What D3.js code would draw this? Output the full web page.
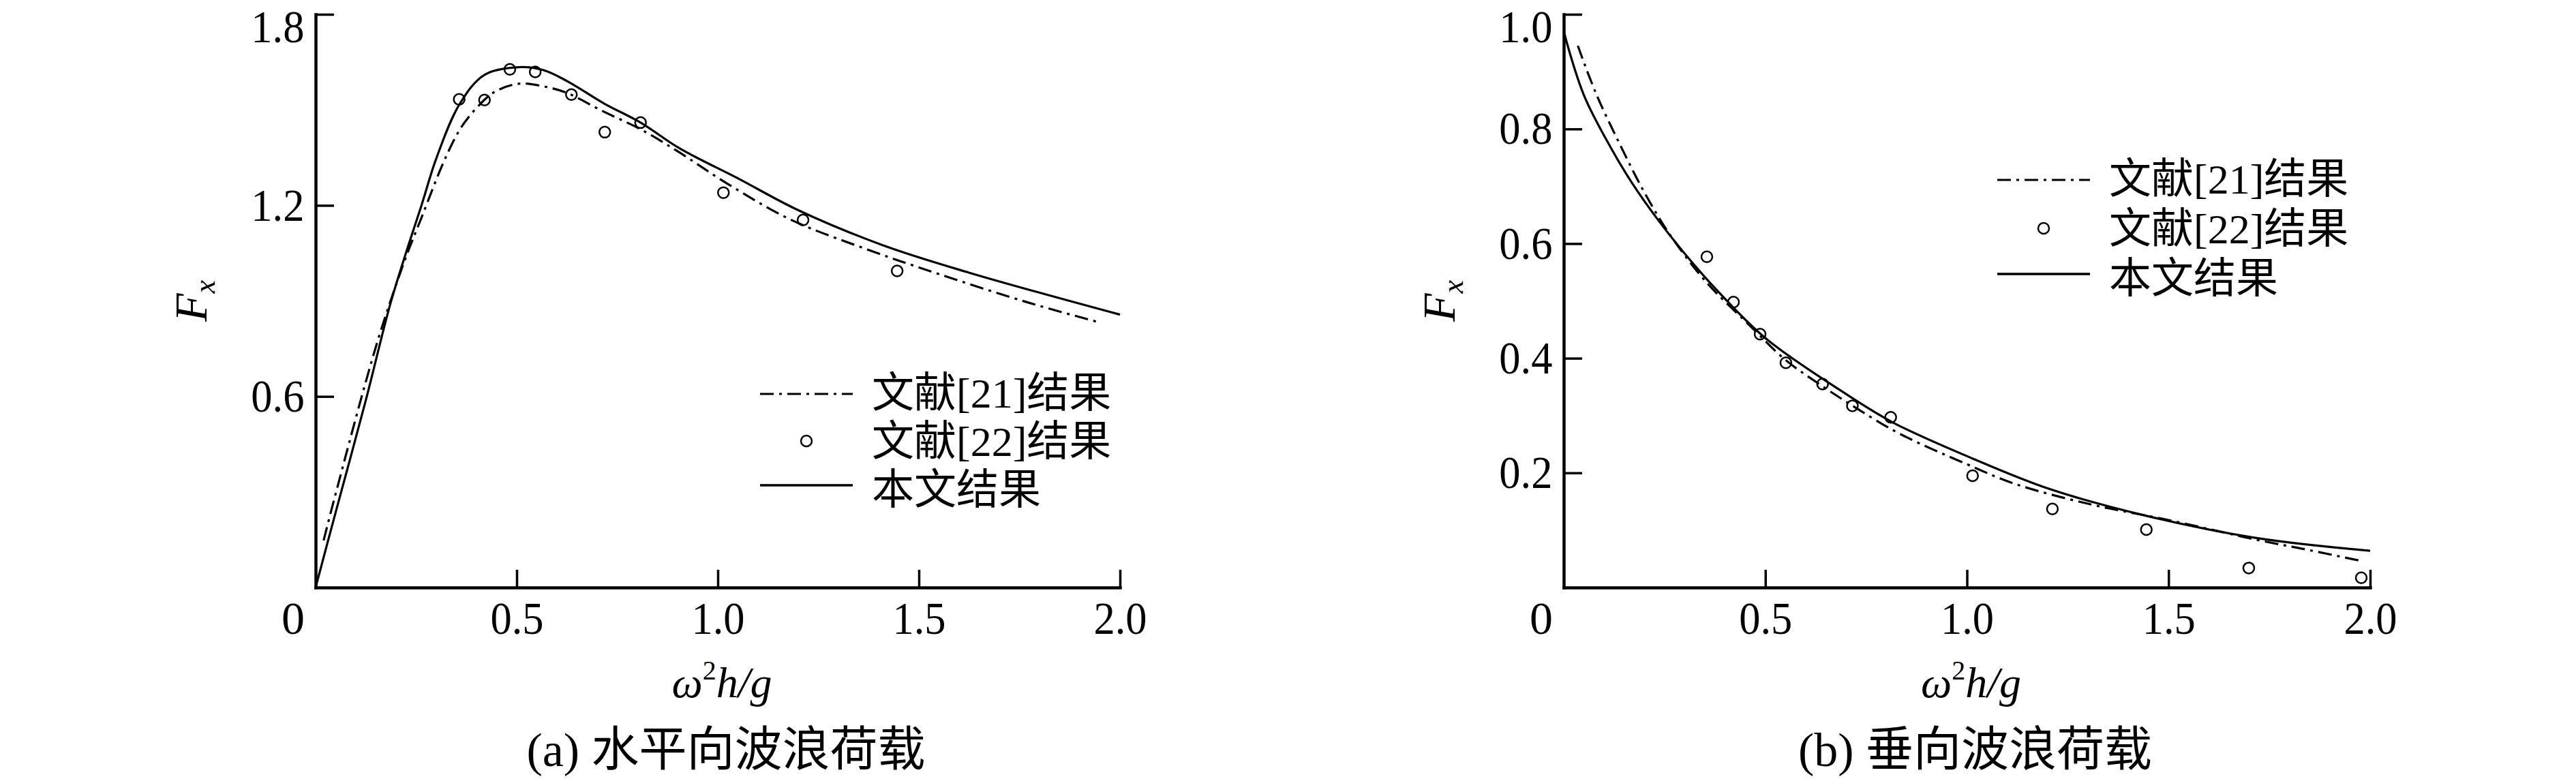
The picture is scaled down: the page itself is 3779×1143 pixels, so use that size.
<!DOCTYPE html>
<html>
<head>
<meta charset="utf-8">
<script src="https://cdn.jsdelivr.net/npm/d3@7"></script>
<style>
body { margin: 0; background: #fff; }
text { fill: #000; }
</style>
</head>
<body>
<svg id="chart" width="3779" height="1143"></svg>
<script>
// ---- data ----
var xTicks = [0.5, 1.0, 1.5, 2.0]
var fxTicks = [0.6, 1.2, 1.8]
var fzTicks = [0.2, 0.4, 0.6, 0.8, 1.0]
var legendNames = ["文献[21]结果", "文献[22]结果", "本文结果"]

// (a) horizontal load
var aPaperX = [0, 0.046, 0.125, 0.185, 0.227, 0.264, 0.30, 0.358, 0.42, 0.505, 0.566, 0.627, 0.717, 0.808, 0.905, 1.053, 1.195, 1.41, 1.624, 2.0]
var aPaperF = [0, 0.218, 0.589, 0.887, 1.06, 1.203, 1.347, 1.518, 1.61, 1.634, 1.625, 1.589, 1.52, 1.46, 1.379, 1.283, 1.188, 1.075, 0.989, 0.857]
var aRef21X = [0.02, 0.046, 0.153, 0.221, 0.266, 0.319, 0.361, 0.409, 0.446, 0.505, 0.566, 0.627, 0.712, 0.808, 0.9, 1.024, 1.18, 1.375, 1.553, 1.766, 1.947]
var aRef21F = [0.148, 0.276, 0.769, 1.025, 1.17, 1.338, 1.443, 1.518, 1.557, 1.582, 1.574, 1.552, 1.497, 1.439, 1.37, 1.268, 1.156, 1.06, 0.983, 0.897, 0.833]
var aRef22X = [0.357, 0.42, 0.483, 0.546, 0.636, 0.719, 0.808, 1.014, 1.212, 1.446]
var aRef22F = [1.533, 1.531, 1.627, 1.619, 1.548, 1.43, 1.46, 1.24, 1.154, 0.994]

// (b) vertical load
var bPaperX = [0, 0.05, 0.117, 0.171, 0.231, 0.297, 0.382, 0.502, 0.686, 0.816, 1.014, 1.204, 1.445, 1.721, 2.0]
var bPaperF = [0.97, 0.859, 0.767, 0.704, 0.644, 0.585, 0.517, 0.434, 0.344, 0.288, 0.225, 0.172, 0.125, 0.086, 0.064]
var bRef21X = [0.035, 0.08, 0.14, 0.201, 0.262, 0.352, 0.46, 0.55, 0.64, 0.721, 0.834, 0.997, 1.118, 1.307, 1.498, 1.72, 1.85, 1.98]
var bRef21F = [0.945, 0.862, 0.772, 0.688, 0.617, 0.534, 0.458, 0.397, 0.352, 0.315, 0.268, 0.216, 0.181, 0.145, 0.118, 0.083, 0.065, 0.046]
var bRef22X = [0.355, 0.421, 0.487, 0.551, 0.642, 0.716, 0.811, 1.014, 1.212, 1.445, 1.699, 1.978]
var bRef22F = [0.577, 0.498, 0.442, 0.392, 0.355, 0.317, 0.297, 0.195, 0.137, 0.101, 0.034, 0.017]

var serif = "'Liberation Serif', 'Times New Roman', 'Noto Sans CJK SC', serif"

var svg = d3.select("#chart")

var zip = function(xs, ys)
{
    return xs.map(function(x, i) { return [x, ys[i]] })
}

var drawPanel = function(p)
{
    var xScale = d3.scaleLinear().domain([0, 2]).range([p.left, p.right])
    var yScale = d3.scaleLinear().domain([0, p.yMax]).range([p.bottom, p.top])
    var g = svg.append("g")

    // axes, ticks pointing inside
    var yAxis = d3.axisLeft(yScale).tickValues(p.yTicks).tickSize(-27).tickSizeOuter(0)
                  .tickPadding(18).tickFormat(d3.format(".1f"))
    var xAxis = d3.axisBottom(xScale).tickValues(xTicks).tickSize(-26).tickSizeOuter(0)
                  .tickPadding(20).tickFormat(d3.format(".1f"))

    var ya = g.append("g").attr("transform", "translate(" + p.left + ",0)").call(yAxis)
    var xa = g.append("g").attr("transform", "translate(0," + p.bottom + ")").call(xAxis)
    ;[ya, xa].forEach(function(a)
    {
        a.select(".domain").attr("stroke", "#000").attr("stroke-width", 4.5).attr("stroke-linecap", "square")
        a.selectAll(".tick line").attr("stroke", "#000").attr("stroke-width", 3.5)
        a.selectAll(".tick text").attr("font-family", serif).attr("font-size", 68)
         .attr("transform", "scale(0.92,1)")
    })
    // top label sits against the page edge, nudge it inside
    ya.selectAll(".tick text").filter(function(d) { return d === p.yMax }).attr("dy", "0.6em")

    // origin label "0"
    g.append("text")
        .attr("x", xScale(0) - 33).attr("y", p.bottom + 68)
        .attr("text-anchor", "middle").attr("font-family", serif).attr("font-size", 68)
        .text("0")

    // curves
    var line = d3.line()
        .x(function(d) { return xScale(d[0]) })
        .y(function(d) { return yScale(d[1]) })
        .curve(d3.curveCatmullRom.alpha(0.5))

    g.append("path").datum(zip(p.ref21X, p.ref21F))
        .attr("d", line).attr("fill", "none").attr("stroke", "#000")
        .attr("stroke-width", 3.2).attr("stroke-dasharray", "20 8 4 8")

    g.append("path").datum(zip(p.paperX, p.paperF))
        .attr("d", line).attr("fill", "none").attr("stroke", "#000").attr("stroke-width", 3.2)

    g.selectAll("circle.pt").data(zip(p.ref22X, p.ref22F)).enter()
        .append("circle").attr("class", "pt")
        .attr("cx", function(d) { return xScale(d[0]) })
        .attr("cy", function(d) { return yScale(d[1]) })
        .attr("r", 8).attr("fill", "none").attr("stroke", "#000").attr("stroke-width", 2.5)

    // y title F_x
    var yt = g.append("text")
        .attr("transform", "translate(" + (p.left - 160) + "," + (p.bottom + p.top) / 2 + ") rotate(-90)")
        .attr("text-anchor", "middle").attr("font-family", serif).attr("font-style", "italic")
    yt.append("tspan").attr("font-size", 68).text("F")
    yt.append("tspan").attr("font-size", 44).attr("dy", 12).text("x")

    // x title ω²h/g
    var xt = g.append("text")
        .attr("x", xScale(1) + 6).attr("y", p.bottom + 161)
        .attr("text-anchor", "middle").attr("font-family", serif).attr("font-size", 64)
    xt.append("tspan").attr("font-style", "italic").text("ω")
    xt.append("tspan").attr("font-size", 40).attr("dy", -26).text("2")
    xt.append("tspan").attr("font-style", "italic").attr("dy", 26).text("h/g")

    // caption
    g.append("text")
        .attr("x", xScale(1) + 12).attr("y", p.bottom + 262)
        .attr("text-anchor", "middle").attr("font-family", serif).attr("font-size", 70)
        .text(p.caption)

    // legend
    var lg = g.append("g").attr("transform", "translate(" + p.legX + "," + p.legY + ")")
    var rows = lg.selectAll("g").data(legendNames).enter().append("g")
        .attr("transform", function(d, i) { return "translate(0," + i * p.legStep + ")" })
    rows.append("text").attr("x", 164).attr("dy", "0.36em")
        .attr("font-family", serif).attr("font-size", 62)
        .text(function(d) { return d })
    lg.append("line").attr("x1", 0).attr("x2", 136).attr("y1", 2).attr("y2", 2)
        .attr("stroke", "#000").attr("stroke-width", 3.2).attr("stroke-dasharray", "20 8 4 8")
    lg.append("circle").attr("cx", 68).attr("cy", p.legStep).attr("r", 8)
        .attr("fill", "none").attr("stroke", "#000").attr("stroke-width", 2.5)
    lg.append("line").attr("x1", 0).attr("x2", 136).attr("y1", 2 * p.legStep - 6).attr("y2", 2 * p.legStep - 6)
        .attr("stroke", "#000").attr("stroke-width", 3.5)
}

drawPanel({
    left: 463, right: 1643, top: 21, bottom: 862, yMax: 1.8, yTicks: fxTicks,
    paperX: aPaperX, paperF: aPaperF, ref21X: aRef21X, ref21F: aRef21F, ref22X: aRef22X, ref22F: aRef22F,
    caption: "(a) 水平向波浪荷载", legX: 1115, legY: 576, legStep: 71
})

drawPanel({
    left: 2294, right: 3477, top: 21, bottom: 862, yMax: 1.0, yTicks: fzTicks,
    paperX: bPaperX, paperF: bPaperF, ref21X: bRef21X, ref21F: bRef21F, ref22X: bRef22X, ref22F: bRef22F,
    caption: "(b) 垂向波浪荷载", legX: 2930, legY: 262, legStep: 73
})
</script>
</body>
</html>
